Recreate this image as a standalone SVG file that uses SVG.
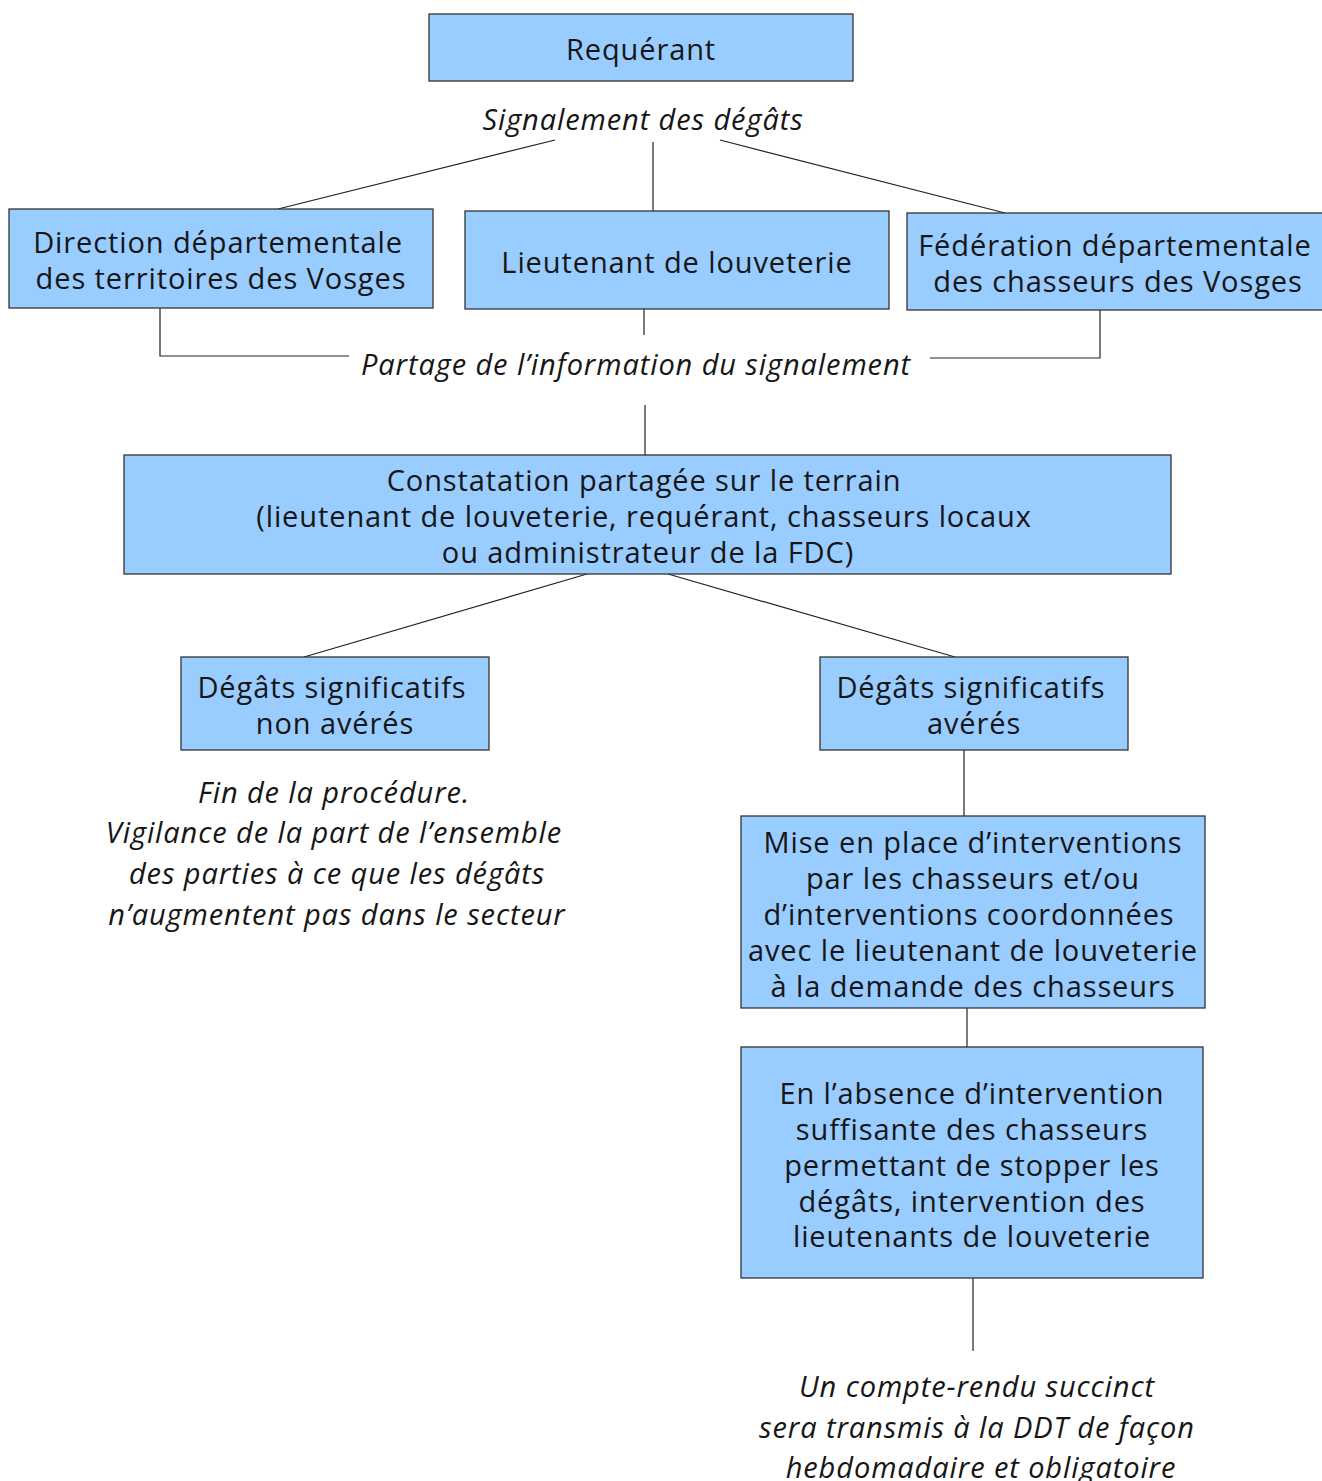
<svg xmlns="http://www.w3.org/2000/svg" width="1322" height="1481" viewBox="0 0 1322 1481">
<style>
.box{fill:#99ccff;stroke:#333;stroke-width:1.3}
.t{font-family:"Open Sans","Noto Sans",sans-serif;font-size:29px;letter-spacing:0.9px;fill:#161616;text-anchor:middle;dominant-baseline:central}
.i{font-style:italic}
.c{fill:none;stroke:#222;stroke-width:1.2}
</style>
<rect width="1322" height="1481" fill="#fff"/>
<g id="connectors">
<path class="c" d="M555,140 L278,209"/>
<path class="c" d="M653,142 L653,211"/>
<path class="c" d="M720,140 L1005,213"/>
<path class="c" d="M160,308 L160,356 L349,356"/>
<path class="c" d="M644,309 L644,335"/>
<path class="c" d="M1100,310 L1100,358 L930,358"/>
<path class="c" d="M645,405 L645,455"/>
<path class="c" d="M587,574 L304,657"/>
<path class="c" d="M668,574 L955,657"/>
<path class="c" d="M964,750 L964,816"/>
<path class="c" d="M967,1008 L967,1047"/>
<path class="c" d="M973,1278 L973,1351"/>
</g>
<g id="requerant"><rect class="box" x="429" y="14" width="424" height="67"/><text class="t" x="641" y="48">Requérant</text></g>
<g id="signalement"><text class="t i" x="643" y="118">Signalement des dégâts</text></g>
<g id="ddt"><rect class="box" x="9" y="209" width="424" height="99"/><text class="t" x="218" y="241">Direction départementale</text><text class="t" x="221" y="277">des territoires des Vosges</text></g>
<g id="lieutenant"><rect class="box" x="465" y="211" width="424" height="98"/><text class="t" x="677" y="261">Lieutenant de louveterie</text></g>
<g id="fdc"><rect class="box" x="907" y="213" width="420" height="97"/><text class="t" x="1115" y="244">Fédération départementale</text><text class="t" x="1118" y="280">des chasseurs des Vosges</text></g>
<g id="partage"><text class="t i" x="636" y="363">Partage de l’information du signalement</text></g>
<g id="constatation"><rect class="box" x="124" y="455" width="1047" height="119"/><text class="t" x="644" y="479">Constatation partagée sur le terrain</text><text class="t" x="644" y="515">(lieutenant de louveterie, requérant, chasseurs locaux</text><text class="t" x="648" y="551">ou administrateur de la FDC)</text></g>
<g id="non-averes"><rect class="box" x="181" y="657" width="308" height="93"/><text class="t" x="332" y="686">Dégâts significatifs</text><text class="t" x="335" y="722">non avérés</text></g>
<g id="averes"><rect class="box" x="820" y="657" width="308" height="93"/><text class="t" x="971" y="686">Dégâts significatifs</text><text class="t" x="974" y="722">avérés</text></g>
<g id="fin"><text class="t i" x="334" y="791">Fin de la procédure.</text><text class="t i" x="334" y="831">Vigilance de la part de l’ensemble</text><text class="t i" x="337" y="872">des parties à ce que les dégâts</text><text class="t i" x="337" y="913">n’augmentent pas dans le secteur</text></g>
<g id="mise-en-place"><rect class="box" x="741" y="816" width="464" height="192"/><text class="t" x="973" y="841">Mise en place d’interventions</text><text class="t" x="973" y="877">par les chasseurs et/ou</text><text class="t" x="969" y="913">d’interventions coordonnées</text><text class="t" x="973" y="949">avec le lieutenant de louveterie</text><text class="t" x="973" y="985">à la demande des chasseurs</text></g>
<g id="absence"><rect class="box" x="741" y="1047" width="462" height="231"/><text class="t" x="972" y="1092">En l’absence d’intervention</text><text class="t" x="972" y="1128">suffisante des chasseurs</text><text class="t" x="972" y="1164">permettant de stopper les</text><text class="t" x="972" y="1200">dégâts, intervention des</text><text class="t" x="972" y="1235">lieutenants de louveterie</text></g>
<g id="compte-rendu"><text class="t i" x="977" y="1385">Un compte-rendu succinct</text><text class="t i" x="977" y="1426">sera transmis à la DDT de façon</text><text class="t i" x="981" y="1466">hebdomadaire et obligatoire</text></g>
</svg>
